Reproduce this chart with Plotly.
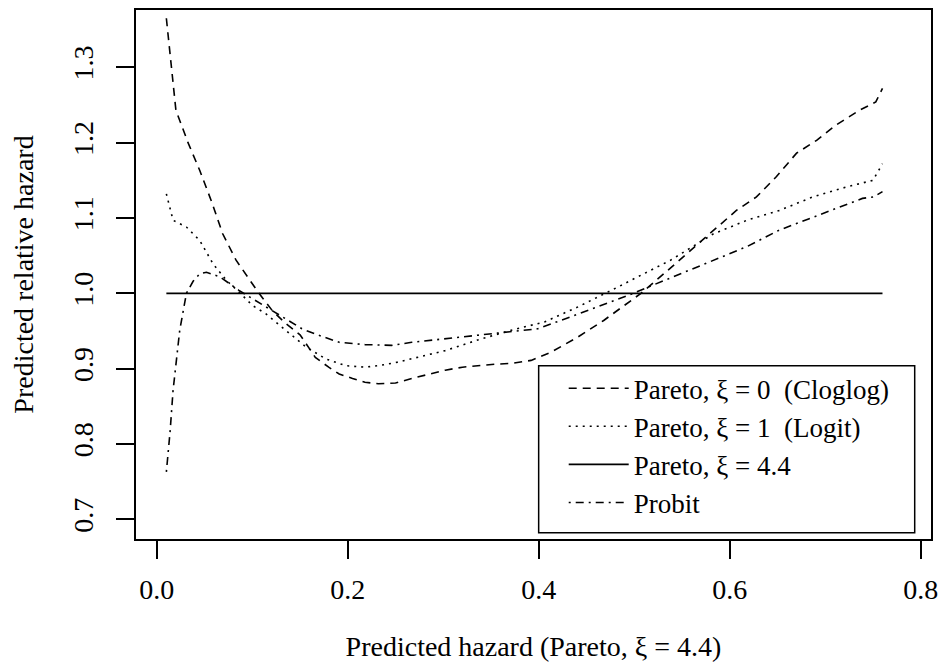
import plotly.graph_objects as go

# ---- data ----
x_cloglog = [0.01, 0.02, 0.033, 0.045, 0.057, 0.069, 0.083, 0.095, 0.107, 0.121, 0.135, 0.15, 0.166,
             0.18, 0.191, 0.205, 0.218, 0.232, 0.25, 0.267, 0.285, 0.302, 0.32, 0.336, 0.355, 0.371,
             0.392, 0.413, 0.441, 0.468, 0.489, 0.507, 0.531, 0.559, 0.583, 0.607, 0.628, 0.649, 0.67,
             0.691, 0.711, 0.736, 0.753, 0.76]
y_cloglog = [1.365, 1.243, 1.199, 1.163, 1.123, 1.079, 1.044, 1.022, 1.0, 0.977, 0.960, 0.945, 0.915,
             0.902, 0.893, 0.887, 0.882, 0.880, 0.881, 0.887, 0.893, 0.898, 0.902, 0.904, 0.906, 0.907,
             0.911, 0.922, 0.942, 0.964, 0.984, 1.0, 1.026, 1.057, 1.084, 1.110, 1.128, 1.155, 1.186,
             1.203, 1.223, 1.243, 1.254, 1.272]

x_logit = [0.01, 0.017, 0.031, 0.045, 0.059, 0.073, 0.086, 0.1, 0.114, 0.135, 0.156, 0.177, 0.198,
           0.218, 0.232, 0.25, 0.267, 0.302, 0.336, 0.371, 0.406, 0.441, 0.476, 0.51, 0.538, 0.583,
           0.618, 0.652, 0.687, 0.722, 0.75, 0.76]
y_logit = [1.132, 1.097, 1.088, 1.070, 1.039, 1.017, 1.002, 0.984, 0.973, 0.951, 0.929, 0.913, 0.904,
           0.902, 0.904, 0.908, 0.913, 0.924, 0.938, 0.951, 0.962, 0.982, 1.004, 1.026, 1.044, 1.079,
           1.097, 1.110, 1.128, 1.141, 1.150, 1.172]

x_pareto44 = [0.01, 0.76]
y_pareto44 = [1.0, 1.0]

x_probit = [0.01, 0.014, 0.017, 0.024, 0.031, 0.038, 0.045, 0.052, 0.066, 0.086, 0.1, 0.114, 0.135,
            0.152, 0.166, 0.191, 0.218, 0.246, 0.267, 0.302, 0.336, 0.371, 0.399, 0.423, 0.458, 0.493,
            0.514, 0.548, 0.583, 0.618, 0.652, 0.687, 0.711, 0.739, 0.751, 0.76]
y_probit = [0.763, 0.818, 0.871, 0.951, 1.0, 1.016, 1.026, 1.028, 1.022, 1.004, 0.993, 0.982, 0.966,
            0.953, 0.946, 0.935, 0.932, 0.931, 0.935, 0.940, 0.944, 0.949, 0.953, 0.964, 0.980, 0.997,
            1.008, 1.026, 1.044, 1.062, 1.084, 1.101, 1.112, 1.126, 1.128, 1.135]

names = ["Pareto, ξ = 0  (Cloglog)", "Pareto, ξ = 1  (Logit)", "Pareto, ξ = 4.4", "Probit"]

x_ticks = [0.0, 0.2, 0.4, 0.6, 0.8]
x_ticklabels = ["0.0", "0.2", "0.4", "0.6", "0.8"]
y_ticks = [0.7, 0.8, 0.9, 1.0, 1.1, 1.2, 1.3]
y_ticklabels = ["0.7", "0.8", "0.9", "1.0", "1.1", "1.2", "1.3"]

FONT = "Liberation Serif, Times New Roman, serif"
FS = 28

fig = go.Figure()
series = [
    (x_cloglog, y_cloglog, "8px,6px"),
    (x_logit, y_logit, "2px,5px"),
    (x_pareto44, y_pareto44, "solid"),
    (x_probit, y_probit, "2px,5px,8px,5px"),
]
for (xs, ys, dash), nm in zip(series, names):
    fig.add_trace(go.Scatter(x=xs, y=ys, mode="lines", name=nm,
                             line=dict(color="black", width=1.6, dash=dash)))

fig.update_layout(
    width=946, height=669,
    margin=dict(l=136, r=9, t=8, b=130),
    paper_bgcolor="white", plot_bgcolor="white",
    font=dict(family=FONT, size=FS, color="black"),
    showlegend=True,
    legend=dict(x=0.538, y=0.3305, xanchor="left", yanchor="top",
                bgcolor="rgba(255,255,255,0)", borderwidth=0,
                font=dict(family=FONT, size=27), itemwidth=60, tracegroupgap=0),
    shapes=[dict(type="rect", xref="paper", yref="paper",
                 x0=0.5065, x1=0.9795, y0=0.0118, y1=0.3277,
                 line=dict(color="black", width=1.5), fillcolor="white", layer="below")],
)

fig.update_xaxes(range=[-0.0218, 0.8108], tickvals=x_ticks, ticktext=x_ticklabels,
                 showgrid=False, zeroline=False, showline=True, mirror=True,
                 linecolor="black", linewidth=1.5, ticks="outside", ticklen=18,
                 tickwidth=1.5, tickcolor="black", ticklabelstandoff=7,
                 title=dict(text="Predicted hazard (Pareto, ξ = 4.4)", standoff=32,
                            font=dict(family=FONT, size=FS)))
fig.update_yaxes(range=[0.674, 1.376], tickvals=y_ticks, ticktext=y_ticklabels,
                 tickangle=-90,
                 showgrid=False, zeroline=False, showline=True, mirror=True,
                 linecolor="black", linewidth=1.5, ticks="outside", ticklen=18,
                 tickwidth=1.5, tickcolor="black", ticklabelstandoff=12,
                 title=dict(text="Predicted relative hazard", standoff=26,
                            font=dict(family=FONT, size=FS)))

fig.write_html("out.html")
